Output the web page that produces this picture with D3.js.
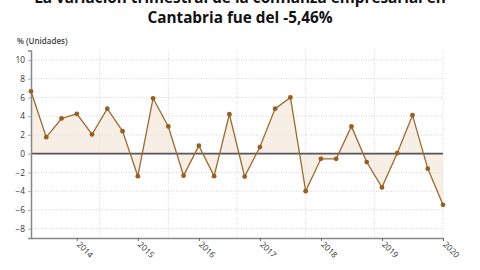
<!DOCTYPE html>
<html>
<head>
    <script src="https://cdn.jsdelivr.net/npm/d3@7"></script>
    <style>
        html, body {
            padding: 0;
            margin: 0;
            background: #fff;
        }
        svg text {
            font-family: "Open Sans", "Noto Sans", sans-serif;
        }
    </style>
</head>
<body>
<script>
    var width = 480, height = 270;

    // quarters (first quarter of each year gets a year tick)
    var quarters = [
        "2013-T2", "2013-T3", "2013-T4",
        "2014-T1", "2014-T2", "2014-T3", "2014-T4",
        "2015-T1", "2015-T2", "2015-T3", "2015-T4",
        "2016-T1", "2016-T2", "2016-T3", "2016-T4",
        "2017-T1", "2017-T2", "2017-T3", "2017-T4",
        "2018-T1", "2018-T2", "2018-T3", "2018-T4",
        "2019-T1", "2019-T2", "2019-T3", "2019-T4",
        "2020-T1"
    ];
    var values = [
        6.65, 1.75, 3.75, 4.25,
        2.05, 4.8, 2.4, -2.4,
        5.9, 2.9, -2.35, 0.85,
        -2.4, 4.2, -2.45, 0.7,
        4.8, 6.0, -4.0, -0.55,
        -0.55, 2.9, -0.9, -3.6,
        0.05, 4.1, -1.6, -5.46
    ];
    var yTicks = [10, 8, 6, 4, 2, 0, -2, -4, -6, -8];
    var yearTicks = ["2014-T1", "2015-T1", "2016-T1", "2017-T1", "2018-T1", "2019-T1", "2020-T1"];
    var titleLines = ["La variación trimestral de la confianza empresarial en", "Cantabria fue del -5,46%"];

    // plot box (window.top is reserved, so own names)
    var plotLeft = 31, plotRight = 443, plotTop = 50.5, plotBottom = 238;

    var svg = d3.select("body").append("svg")
        .attr("width", width)
        .attr("height", height);

    var x = d3.scalePoint().domain(quarters).range([plotLeft, plotRight]);
    var y = d3.scaleLinear().domain([-9, 11]).range([plotBottom, plotTop]);

    // title
    svg.selectAll(".title")
        .data(titleLines)
        .enter().append("text")
        .attr("class", "title")
        .attr("x", width / 2)
        .attr("y", function (d, i) { return 2.8 + i * 20.6; })
        .attr("text-anchor", "middle")
        .style("font-size", "15.3px")
        .style("font-weight", "bold")
        .style("fill", "#111")
        .text(function (d) { return d; });

    svg.append("text")
        .attr("x", 17)
        .attr("y", 44)
        .style("font-size", "8px")
        .style("font-weight", "600")
        .style("fill", "#444")
        .text("% (Unidades)");

    // horizontal grid
    svg.append("g")
        .selectAll("line")
        .data(yTicks.filter(function (d) { return d !== 0; }))
        .enter().append("line")
        .attr("x1", plotLeft).attr("x2", plotRight)
        .attr("y1", function (d) { return y(d); })
        .attr("y2", function (d) { return y(d); })
        .style("stroke", "#d2d2d2")
        .style("stroke-width", 1)
        .style("stroke-dasharray", "1,1.5");

    // vertical grid (6 equal divisions)
    var vgrid = d3.range(1, 7).map(function (k) { return plotLeft + (plotRight - plotLeft) * k / 6; });
    svg.append("g")
        .selectAll("line")
        .data(vgrid)
        .enter().append("line")
        .attr("x1", function (d) { return d; })
        .attr("x2", function (d) { return d; })
        .attr("y1", plotTop).attr("y2", plotBottom)
        .style("stroke", "#d6d6d6")
        .style("stroke-width", 1)
        .style("stroke-dasharray", "1,1.5");

    // area to zero
    var area = d3.area()
        .x(function (d, i) { return x(quarters[i]); })
        .y0(y(0))
        .y1(function (d) { return y(d); });

    svg.append("path")
        .datum(values)
        .attr("d", area)
        .style("fill", "#f3e6d8")
        .style("opacity", 0.65);

    // zero line
    svg.append("line")
        .attr("x1", plotLeft).attr("x2", plotRight)
        .attr("y1", y(0)).attr("y2", y(0))
        .style("stroke", "#555")
        .style("stroke-width", 1.6);

    // y axis
    var yAxis = svg.append("g")
        .attr("transform", "translate(" + plotLeft + ",0)")
        .call(d3.axisLeft(y).tickValues(yTicks).tickSize(3).tickPadding(3));
    yAxis.select(".domain").style("stroke", "#888").style("stroke-width", 1.5);
    yAxis.selectAll(".tick line").style("stroke", "#aaa");
    yAxis.selectAll("text")
        .style("font-size", "8.3px")
        .style("fill", "#333")
        .style("font-family", "'Open Sans', sans-serif");

    // x axis
    var xAxis = svg.append("g")
        .attr("transform", "translate(0," + plotBottom + ")")
        .call(d3.axisBottom(x).tickValues(yearTicks).tickSize(3).tickSizeOuter(0)
            .tickFormat(function (d) { return d.slice(0, 4); }));
    xAxis.select(".domain").style("stroke", "#888").style("stroke-width", 1.5);
    xAxis.selectAll(".tick line").style("stroke", "#666");
    xAxis.selectAll("text")
        .attr("y", 0)
        .attr("dy", "0")
        .attr("text-anchor", "start")
        .attr("transform", "translate(-1,7) rotate(45)")
        .style("font-size", "8.3px")
        .style("fill", "#333")
        .style("font-family", "'Open Sans', sans-serif");

    // line
    var line = d3.line()
        .x(function (d, i) { return x(quarters[i]); })
        .y(function (d) { return y(d); });

    svg.append("path")
        .datum(values)
        .attr("d", line)
        .style("fill", "none")
        .style("stroke", "#9c6a2c")
        .style("stroke-width", 1.3);

    svg.append("g")
        .selectAll("circle")
        .data(values)
        .enter().append("circle")
        .attr("cx", function (d, i) { return x(quarters[i]); })
        .attr("cy", function (d) { return y(d); })
        .attr("r", 2.4)
        .style("fill", "#9a5e1e");
</script>
</body>
</html>
